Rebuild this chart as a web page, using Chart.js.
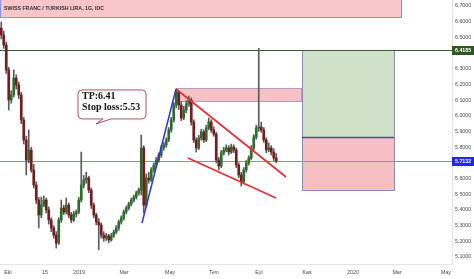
<!DOCTYPE html>
<html>
<head>
<meta charset="utf-8">
<script src="https://cdn.jsdelivr.net/npm/chart.js@4.4.0/dist/chart.umd.min.js"></script>
<style>
  body { margin: 0; background: #fff; }
  #wrap { width: 474px; height: 279px; position: relative; }
</style>
</head>
<body>
<div id="wrap"><canvas id="chart"></canvas></div>
<script>

// daily CHF/TRY candles (one entry ~ 2 trading days)
var opens = [6.560,6.515,6.451,6.292,6.101,6.133,6.241,6.196,6.133,5.973,
  5.846,5.718,5.782,5.655,5.559,5.463,5.368,5.431,5.463,5.400,
  5.336,5.285,5.240,5.189,5.336,5.412,5.387,5.431,5.368,5.336,
  5.374,5.387,5.463,5.559,5.591,5.604,5.527,5.431,5.368,5.323,
  5.304,5.240,5.221,5.234,5.209,5.234,5.259,5.285,5.323,5.349,
  5.387,5.412,5.438,5.463,5.482,5.508,5.527,5.795,5.431,5.604,
  5.591,5.655,5.686,5.718,5.750,5.795,5.814,5.846,5.910,5.973,
  6.069,6.152,6.069,5.986,6.037,6.075,6.101,5.961,5.846,5.795,
  5.859,5.897,5.846,5.922,5.961,5.910,5.884,5.718,5.680,5.763,
  5.782,5.795,5.769,5.801,5.782,5.686,5.623,5.578,5.655,5.699,
  5.731,5.795,5.865,5.922,5.929,5.910,5.846,5.782,5.795,5.769,
  5.731];
var highs = [6.598,6.540,6.470,6.310,6.160,6.292,6.262,6.215,6.150,5.990,
  5.870,5.910,5.800,5.690,5.580,5.480,5.482,5.490,5.475,5.420,
  5.350,5.300,5.262,5.350,5.463,5.430,5.476,5.445,5.385,5.392,
  5.400,5.480,5.769,5.620,5.640,5.615,5.540,5.445,5.380,5.345,
  5.318,5.262,5.250,5.245,5.250,5.272,5.300,5.335,5.362,5.400,
  5.425,5.450,5.476,5.495,5.520,5.540,5.878,5.810,5.630,5.640,
  5.670,5.700,5.735,5.765,5.810,5.830,5.860,5.925,5.990,6.085,
  6.171,6.160,6.090,6.060,6.095,6.126,6.115,5.975,5.860,5.875,
  5.915,5.910,5.940,5.986,5.975,5.930,5.895,5.735,5.780,5.800,
  5.815,5.810,5.820,5.815,5.795,5.700,5.640,5.670,5.715,5.745,
  5.810,5.880,5.940,6.430,5.960,5.925,5.860,5.827,5.810,5.790,
  5.760];
var lows = [6.490,6.430,6.270,6.037,6.080,6.120,6.170,6.110,5.950,5.820,
  5.623,5.700,5.640,5.540,5.440,5.285,5.350,5.420,5.380,5.310,
  5.262,5.220,5.157,5.180,5.320,5.370,5.375,5.350,5.318,5.325,
  5.355,5.375,5.450,5.540,5.570,5.510,5.410,5.350,5.305,5.145,
  5.220,5.200,5.205,5.190,5.200,5.225,5.248,5.270,5.310,5.335,
  5.375,5.400,5.425,5.450,5.470,5.495,5.495,5.380,5.420,5.570,
  5.580,5.640,5.670,5.705,5.735,5.780,5.800,5.835,5.895,5.960,
  6.050,6.040,5.970,5.975,6.020,6.060,5.940,5.830,5.769,5.785,
  5.845,5.830,5.835,5.910,5.895,5.870,5.700,5.655,5.670,5.750,
  5.770,5.750,5.760,5.765,5.670,5.605,5.553,5.565,5.640,5.685,
  5.720,5.780,5.850,5.900,5.895,5.830,5.765,5.770,5.750,5.715,
  5.700];
var closes = [6.515,6.451,6.292,6.101,6.133,6.241,6.196,6.133,5.973,5.846,
  5.718,5.782,5.655,5.559,5.463,5.368,5.431,5.463,5.400,5.336,
  5.285,5.240,5.189,5.336,5.412,5.387,5.431,5.368,5.336,5.374,
  5.387,5.463,5.559,5.591,5.604,5.527,5.431,5.368,5.323,5.304,
  5.240,5.221,5.234,5.209,5.234,5.259,5.285,5.323,5.349,5.387,
  5.412,5.438,5.463,5.482,5.508,5.527,5.795,5.431,5.604,5.591,
  5.655,5.686,5.718,5.750,5.795,5.814,5.846,5.910,5.973,6.069,
  6.152,6.069,5.986,6.037,6.075,6.101,5.961,5.846,5.795,5.859,
  5.897,5.846,5.922,5.961,5.910,5.884,5.718,5.680,5.763,5.782,
  5.795,5.769,5.801,5.782,5.686,5.623,5.578,5.655,5.699,5.731,
  5.795,5.865,5.922,5.929,5.910,5.846,5.782,5.795,5.769,5.731,
  5.7132];

var xTickPos = [2.7, 17.5, 31.1, 49.1, 67.5, 85.1, 103.1, 122.3, 140.7, 158.3, 177.9];
var xTickLabels = ["Eki", "15", "2019", "Mar", "May", "Tem", "Eyl", "Kas", "2020", "Mar", "May"];
var yTicks = [5.1, 5.2, 5.3, 5.4, 5.5, 5.6, 5.8, 5.9, 6.0, 6.1, 6.2, 6.3, 6.5, 6.6, 6.7];

var takeProfit = 6.4185;
var lastPrice = 5.7132;
var entryPrice = 5.865;
var stopLoss = 5.527;

// drawings, in bar index / price units
var topZone = [-0.5, 159.9, 6.80, 6.630];
var resistZone = [69.9, 119.9, 6.177, 6.094];
var positionSpan = [120.3, 157.1];
var riseLine = [{x: 56.3, y: 5.317}, {x: 69.9, y: 6.171}];
var wedgeTop = [{x: 69.9, y: 6.171}, {x: 113.9, y: 5.610}];
var wedgeBottom = [{x: 74.7, y: 5.731}, {x: 109.9, y: 5.476}];
var calloutAt = {x: 30.7, y: 6.165};
var calloutTip = {x: 37.9, y: 5.948};
var calloutText = ["TP:6.41", "Stop loss:5.53"];
var title = "SWISS FRANC / TURKISH LIRA, 1G, IDC";

var wickData = [], bodyData = [], bodyCol = [];
for (var i = 0; i < closes.length; i++) {
  wickData.push({x: i, y: [lows[i], highs[i]]});
  bodyData.push({x: i, y: [opens[i], closes[i]]});
  bodyCol.push(closes[i] >= opens[i] ? "#2b6e2b" : "#741c20");
}

function rect(chart, x1, x2, y1, y2, fill, stroke) {
  var ctx = chart.ctx, xs = chart.scales.x, ys = chart.scales.y;
  var l = xs.getPixelForValue(x1), r = xs.getPixelForValue(x2);
  var t = ys.getPixelForValue(y1), b = ys.getPixelForValue(y2);
  ctx.fillStyle = fill;
  ctx.fillRect(l, t, r - l, b - t);
  ctx.strokeStyle = stroke;
  ctx.lineWidth = 1;
  ctx.strokeRect(Math.round(l) + 0.5, Math.round(t) + 0.5, Math.round(r - l), Math.round(b - t));
}

function hline(chart, v, x1, x2, color, w) {
  var ctx = chart.ctx, y = Math.round(chart.scales.y.getPixelForValue(v)) + 0.5;
  ctx.strokeStyle = color;
  ctx.lineWidth = w;
  ctx.beginPath();
  ctx.moveTo(x1, y);
  ctx.lineTo(x2, y);
  ctx.stroke();
}

function priceTag(chart, v, bg) {
  var ctx = chart.ctx, a = chart.chartArea;
  var y = chart.scales.y.getPixelForValue(v);
  ctx.fillStyle = bg;
  ctx.fillRect(a.right, Math.round(y) - 4, 22, 9);
  ctx.fillStyle = "#fff";
  ctx.font = "bold 5.3px 'Liberation Sans'";
  ctx.textBaseline = "middle";
  ctx.textAlign = "left";
  ctx.fillText(v.toFixed(4), a.right + 3, y + 0.5);
}

var drawings = {
  id: "drawings",
  beforeDatasetsDraw: function(chart) {
    var ctx = chart.ctx, a = chart.chartArea, xs = chart.scales.x;
    ctx.save();
    ctx.beginPath();
    ctx.rect(a.left, a.top, a.right - a.left, a.bottom - a.top);
    ctx.clip();
    rect(chart, topZone[0], topZone[1], topZone[2], topZone[3], "#f8c6c8", "#9090d8");
    rect(chart, resistZone[0], resistZone[1], resistZone[2], resistZone[3], "#f7c2c4", "#b09cc8");
    rect(chart, positionSpan[0], positionSpan[1], takeProfit, entryPrice, "#d0e1ca", "#8a8abc");
    rect(chart, positionSpan[0], positionSpan[1], entryPrice, stopLoss, "#f6c0c3", "#8a8abc");
    hline(chart, entryPrice, xs.getPixelForValue(positionSpan[0]), xs.getPixelForValue(positionSpan[1]), "#4a4a8e", 1.5);
    hline(chart, takeProfit, a.left, a.right, "#3c5c2c", 1);
    hline(chart, lastPrice, a.left, a.right, "#8585f5", 1);
    ctx.restore();
  },
  afterDatasetsDraw: function(chart) {
    var ctx = chart.ctx, xs = chart.scales.x, ys = chart.scales.y;
    var bx = xs.getPixelForValue(calloutAt.x), by = ys.getPixelForValue(calloutAt.y);
    var tx = xs.getPixelForValue(calloutTip.x), ty = ys.getPixelForValue(calloutTip.y);
    var w = 68, h = 29, r = 4;
    ctx.save();
    ctx.beginPath();
    ctx.moveTo(bx + r, by);
    ctx.lineTo(bx + w - r, by);
    ctx.quadraticCurveTo(bx + w, by, bx + w, by + r);
    ctx.lineTo(bx + w, by + h - r);
    ctx.quadraticCurveTo(bx + w, by + h, bx + w - r, by + h);
    ctx.lineTo(bx + 33, by + h);
    ctx.lineTo(tx, ty);
    ctx.lineTo(bx + 25, by + h);
    ctx.lineTo(bx + r, by + h);
    ctx.quadraticCurveTo(bx, by + h, bx, by + h - r);
    ctx.lineTo(bx, by + r);
    ctx.quadraticCurveTo(bx, by, bx + r, by);
    ctx.closePath();
    ctx.fillStyle = "rgba(255,255,255,0.95)";
    ctx.fill();
    ctx.strokeStyle = "#a8505c";
    ctx.lineWidth = 1;
    ctx.stroke();
    ctx.fillStyle = "#111";
    ctx.font = "bold 10px 'Liberation Serif'";
    ctx.textBaseline = "middle";
    ctx.textAlign = "left";
    ctx.fillText(calloutText[0], bx + 4, by + 6.5);
    ctx.fillText(calloutText[1], bx + 4, by + 17);
    ctx.restore();
  },
  afterDraw: function(chart) {
    var ctx = chart.ctx;
    ctx.save();
    priceTag(chart, takeProfit, "#2f5720");
    priceTag(chart, lastPrice, "#2424f5");
    ctx.font = "bold 6px 'Liberation Sans'";
    var fs = 6 * 100 / ctx.measureText(title).width;
    ctx.font = "bold " + fs.toFixed(2) + "px 'Liberation Sans'";
    ctx.fillStyle = "#333";
    ctx.textBaseline = "middle";
    ctx.textAlign = "left";
    ctx.fillText(title, 4, 9);
    ctx.restore();
  }
};

var ctx = document.getElementById("chart");

new Chart(ctx, {
  type: "bar",
  data: {
    datasets: [
      {type: "line", data: riseLine, borderColor: "#3434d8", borderWidth: 1.5, pointRadius: 0, order: 0},
      {type: "line", data: wedgeTop, borderColor: "#e6303c", borderWidth: 1.8, pointRadius: 0, order: 0},
      {type: "line", data: wedgeBottom, borderColor: "#e6303c", borderWidth: 1.8, pointRadius: 0, order: 0},
      {data: bodyData, backgroundColor: bodyCol, barThickness: 2, minBarLength: 1, grouped: false, order: 1},
      {data: wickData, backgroundColor: "#5a5a5a", barThickness: 1, grouped: false, order: 2}
    ]
  },
  options: {
    responsive: true,
    maintainAspectRatio: false,
    animation: false,
    layout: { padding: 0, autoPadding: false },
    plugins: { legend: { display: false }, tooltip: { enabled: false } },
    scales: {
      x: {
        type: "linear",
        min: -0.5,
        max: 180.3,
        offset: false,
        grid: { display: false, drawTicks: false },
        border: { display: true, color: "#e4e4e4" },
        afterBuildTicks: function(scale) {
          scale.ticks = xTickPos.map(function(v) { return {value: v}; });
        },
        afterFit: function(scale) {
          scale.height = 15;
          scale.paddingLeft = 0;
          scale.paddingRight = 0;
        },
        ticks: {
          autoSkip: false,
          maxRotation: 0,
          padding: 5,
          color: "#4a4a4a",
          font: { family: "'Liberation Sans'", size: 5.3 },
          callback: function(v, idx) { return xTickLabels[idx]; }
        }
      },
      y: {
        type: "linear",
        position: "right",
        min: 5.0554,
        max: 6.7382,
        grid: { display: false, drawTicks: false },
        border: { display: true, color: "#e4e4e4" },
        afterBuildTicks: function(scale) {
          scale.ticks = yTicks.map(function(v) { return {value: v}; });
        },
        afterFit: function(scale) {
          scale.width = 22;
          scale.paddingTop = 0;
          scale.paddingBottom = 0;
        },
        ticks: {
          padding: 3,
          color: "#4a4a4a",
          font: { family: "'Liberation Sans'", size: 5.3 },
          callback: function(v) { return v.toFixed(4); }
        }
      }
    }
  },
  plugins: [drawings]
});
</script>
</body>
</html>
